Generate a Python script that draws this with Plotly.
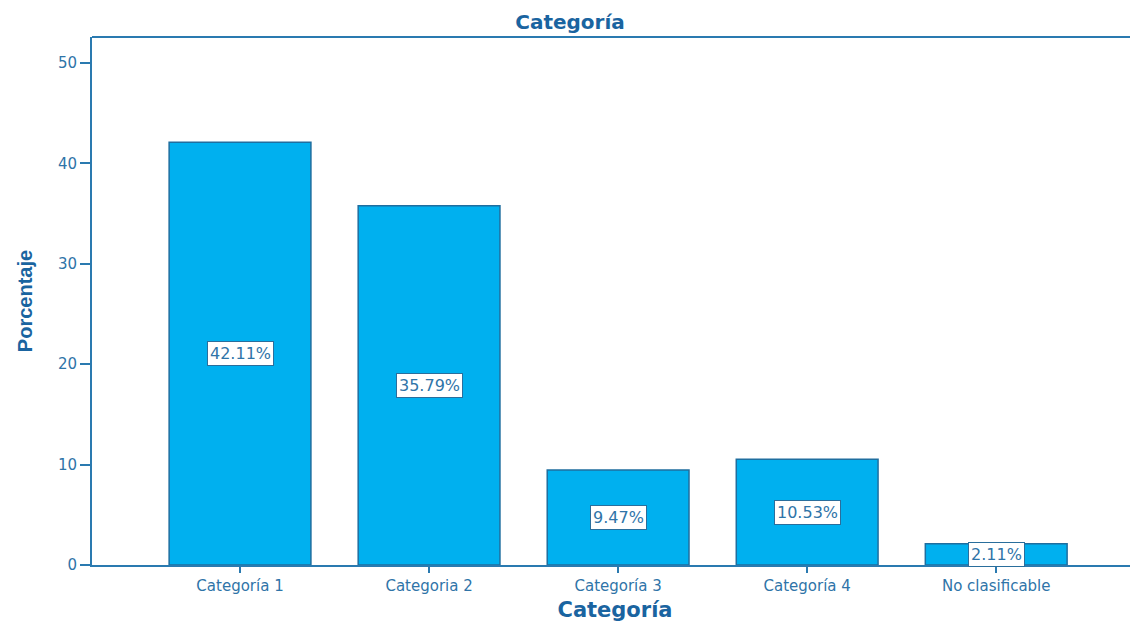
import plotly.graph_objects as go

categories = ["Categoría 1", "Categoria 2", "Categoría 3", "Categoría 4", "No clasificable"]
values = [42.11, 35.79, 9.47, 10.53, 2.11]
labels = ["42.11%", "35.79%", "9.47%", "10.53%", "2.11%"]
y_ticks = [0, 10, 20, 30, 40, 50]

axis_color = "#2A7AB0"
title_color = "#1A64A0"
text_color = "#2F74A8"
font_main = "DejaVu Sans, Verdana, sans-serif"

fig = go.Figure()
fig.add_trace(go.Bar(
    x=list(range(len(categories))),
    y=values,
    width=0.75,
    marker=dict(color="#00B0EF", line=dict(color="#1F6E9F", width=1.5)),
    hoverinfo="skip",
))

for i, (v, t) in enumerate(zip(values, labels)):
    fig.add_annotation(
        x=i, y=v / 2, text=t, showarrow=False,
        bgcolor="white", bordercolor="#2A6E9C", borderwidth=1, borderpad=2,
        font=dict(family=font_main, size=16, color=text_color),
    )

fig.update_layout(
    width=1130, height=621,
    paper_bgcolor="white", plot_bgcolor="white",
    margin=dict(l=84, r=0, t=29, b=64),
    showlegend=False,
    title=dict(text="<b>Categoría</b>", x=0.457, xanchor="center", y=0.977, yanchor="middle",
               xref="paper",
               font=dict(family=font_main, size=20, color=title_color)),
    xaxis=dict(
        range=[-0.783, 4.75],
        tickmode="array", tickvals=list(range(len(categories))), ticktext=categories,
        ticks="outside", ticklen=6, tickwidth=2, tickcolor=axis_color,
        showline=True, linecolor=axis_color, linewidth=2,
        mirror=False, showgrid=False, zeroline=False,
        tickfont=dict(family=font_main, size=15, color=text_color),
        title=dict(text="<b>Categoría</b>", standoff=8,
                   font=dict(family=font_main, size=21, color=title_color)),
    ),
    yaxis=dict(
        range=[0, 52.6],
        tickmode="array", tickvals=y_ticks,
        ticks="outside", ticklen=10, tickwidth=2, tickcolor=axis_color,
        showline=True, linecolor=axis_color, linewidth=2,
        showgrid=False, zeroline=False,
        tickfont=dict(family=font_main, size=15, color=text_color),
        title=dict(text="<b>Porcentaje</b>", standoff=20,
                   font=dict(family="Liberation Sans Narrow, Liberation Sans, Arial Narrow, sans-serif",
                             size=20, color=title_color)),
    ),
)

# top frame line
fig.add_shape(type="line", xref="paper", yref="paper", x0=0, x1=1, y0=1, y1=1,
              line=dict(color=axis_color, width=2))

fig.write_html("out.html")
